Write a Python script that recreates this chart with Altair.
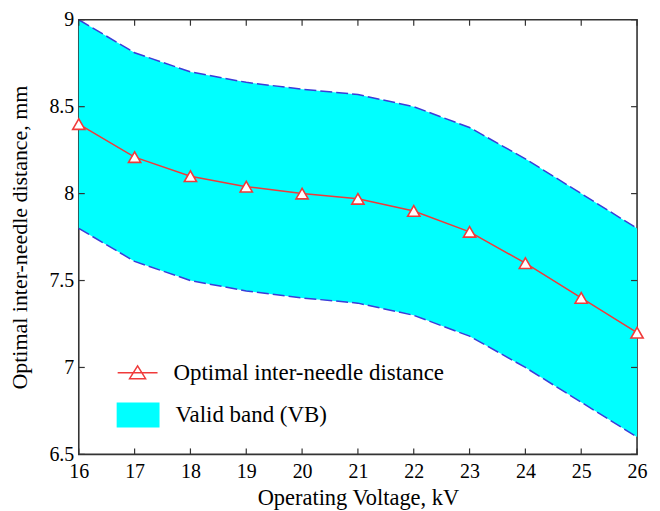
import altair as alt
import pandas as pd

voltage = [16, 17, 18, 19, 20, 21, 22, 23, 24, 25, 26]
optimal = [8.40, 8.21, 8.10, 8.04, 8.00, 7.97, 7.90, 7.78, 7.60, 7.40, 7.20]
upper = [9.00, 8.81, 8.70, 8.64, 8.60, 8.57, 8.50, 8.38, 8.20, 8.00, 7.80]
lower = [7.80, 7.61, 7.50, 7.44, 7.40, 7.37, 7.30, 7.18, 7.00, 6.80, 6.60]
x_ticks = [16, 17, 18, 19, 20, 21, 22, 23, 24, 25, 26]
y_ticks = [6.5, 7, 7.5, 8, 8.5, 9]

line_label = "Optimal inter-needle distance"
band_label = "Valid band (VB)"
x_title = "Operating Voltage, kV"
y_title = "Optimal inter-needle distance, mm"

FONT = "Liberation Serif"
RED = "#f03a3a"
CYAN = "#00ffff"
BLUE = "#3c3cd8"
W, H = 560, 436

df = pd.DataFrame({"v": voltage, "opt": optimal, "up": upper, "lo": lower,
                   "s": line_label, "b": band_label})
xt = pd.DataFrame({"t": x_ticks})
yt = pd.DataFrame({"t": y_ticks})

xscale = alt.Scale(domain=[16, 26], nice=False, zero=False)
yscale = alt.Scale(domain=[6.5, 9], nice=False, zero=False)

common_axis = dict(tickSize=0, domain=False, grid=False, labelFlush=False,
                   labelOverlap=False, labelFont=FONT, titleFont=FONT,
                   labelColor="black", titleColor="black", titleFontWeight="normal",
                   labelFontSize=20)

xaxis = alt.Axis(values=x_ticks, format="d", title=x_title, labelPadding=7,
                 titleFontSize=22.5, titleX=W / 2, titleY=50,
                 titleBaseline="alphabetic", **common_axis)
yaxis = alt.Axis(values=y_ticks, format="~g", title=y_title, labelPadding=5,
                 titleFontSize=22, titleX=-52, titleY=H / 2,
                 titleBaseline="alphabetic", **common_axis)

base = alt.Chart(df)

band = base.mark_area(opacity=1).encode(
    x=alt.X("v:Q", scale=xscale, axis=xaxis),
    y=alt.Y("up:Q", scale=yscale, axis=yaxis),
    y2="lo:Q",
    fill=alt.Fill("b:N", scale=alt.Scale(domain=[band_label], range=[CYAN]),
                  legend=alt.Legend(orient="none", legendX=38, legendY=375, title=None,
                                    padding=0, labelOffset=16, labelFontSize=23,
                                    labelFont=FONT, labelColor="black", labelLimit=0,
                                    symbolType="M-1,-0.58H1V0.58H-1Z", symbolSize=1849,
                                    symbolStrokeWidth=0, symbolOpacity=1)),
)

up_line = base.mark_line(color=BLUE, strokeDash=[12, 4], strokeWidth=1.5).encode(
    x=alt.X("v:Q", scale=xscale), y=alt.Y("up:Q", scale=yscale))
lo_line = base.mark_line(color=BLUE, strokeDash=[12, 4], strokeWidth=1.5).encode(
    x=alt.X("v:Q", scale=xscale), y=alt.Y("lo:Q", scale=yscale))

red_line = base.mark_line(strokeWidth=1.5).encode(
    x=alt.X("v:Q", scale=xscale),
    y=alt.Y("opt:Q", scale=yscale),
    stroke=alt.Stroke("s:N", scale=alt.Scale(domain=[line_label], range=[RED]),
                      legend=alt.Legend(orient="none", legendX=38, legendY=333, title=None,
                                        padding=0, labelOffset=15, labelFontSize=23,
                                        labelFont=FONT, labelColor="black", labelLimit=0,
                                        symbolType="M-1,0H1M-0.4,0.3L0,-0.34L0.4,0.3Z",
                                        symbolSize=1600, symbolStrokeWidth=1.5,
                                        symbolFillColor="white")),
)

points = base.mark_point(shape="triangle-up", size=150, filled=False, fill="white",
                         fillOpacity=1, opacity=1, stroke=RED, strokeWidth=1.6).encode(
    x=alt.X("v:Q", scale=xscale), y=alt.Y("opt:Q", scale=yscale))

tick_style = dict(color="#333333", strokeWidth=1.2)
xt_bottom = alt.Chart(xt).mark_rule(**tick_style).encode(
    x=alt.X("t:Q", scale=xscale), y=alt.value(H), y2=alt.value(H - 6))
xt_top = alt.Chart(xt).mark_rule(**tick_style).encode(
    x=alt.X("t:Q", scale=xscale), y=alt.value(0), y2=alt.value(6))
yt_left = alt.Chart(yt).mark_rule(**tick_style).encode(
    y=alt.Y("t:Q", scale=yscale), x=alt.value(0), x2=alt.value(6))
yt_right = alt.Chart(yt).mark_rule(**tick_style).encode(
    y=alt.Y("t:Q", scale=yscale), x=alt.value(W), x2=alt.value(W - 6))

chart = alt.layer(band, up_line, lo_line, red_line, points,
                  xt_bottom, xt_top, yt_left, yt_right).properties(
    width=W, height=H, autosize="none", background="white",
    padding={"left": 71, "top": 11, "right": 15, "bottom": 56},
).configure_view(stroke="#333333", strokeWidth=1.6)

chart.save("out.html", embed_options={"renderer": "svg", "actions": False})
